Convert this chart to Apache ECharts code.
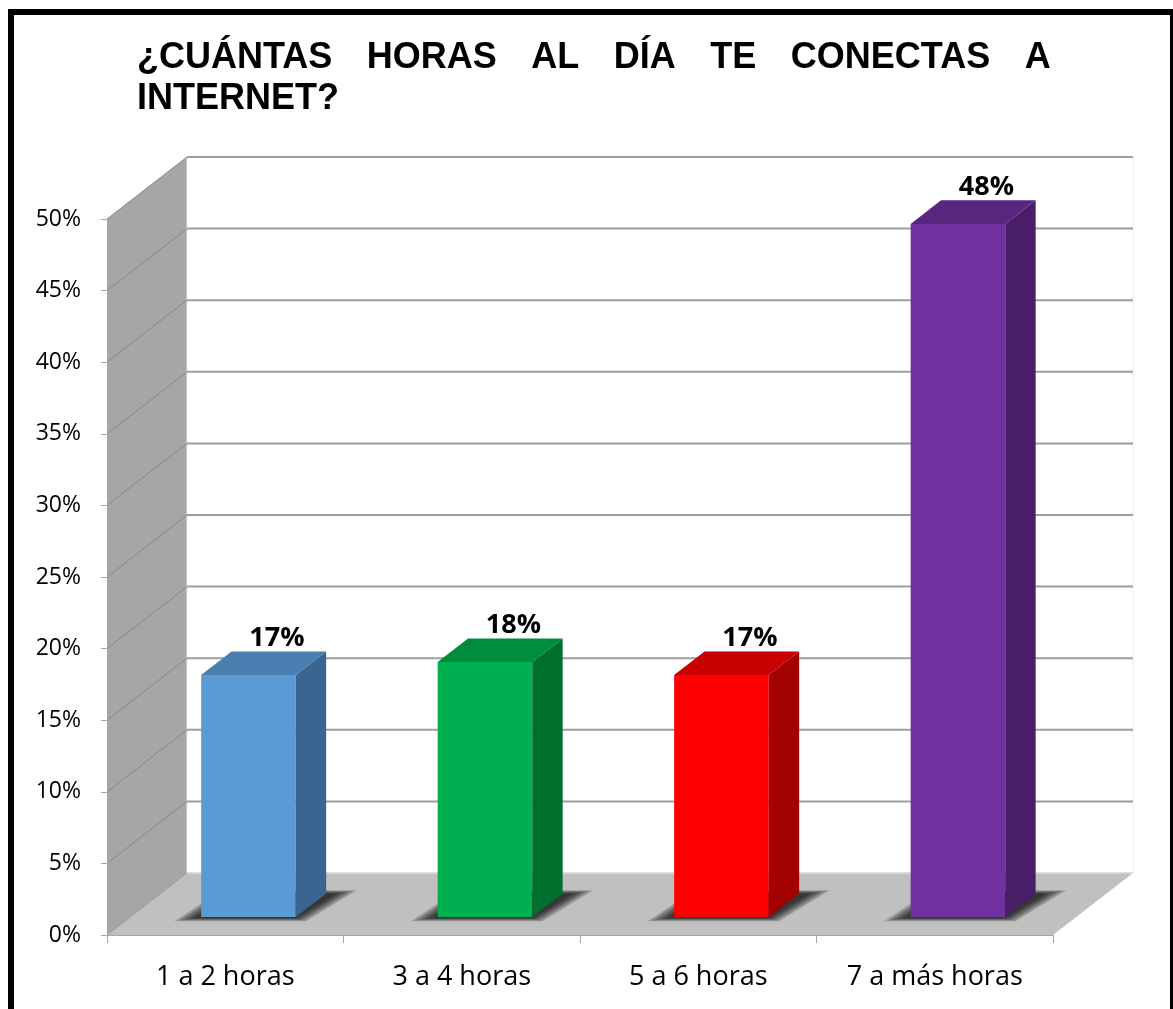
<!DOCTYPE html>
<html><head><meta charset="utf-8">
<script src="https://cdn.jsdelivr.net/npm/echarts@6/dist/echarts.min.js"></script>
<style>html,body{margin:0;padding:0;background:#fff}#c{width:1173px;height:1009px}</style>
</head><body><div id="c"></div>
<script>
const categories = ['1 a 2 horas', '3 a 4 horas', '5 a 6 horas', '7 a más horas'];
const values = [16.9, 17.8, 16.9, 48.4];
const barLabels = ['17%', '18%', '17%', '48%'];
const yTickValues = [0, 5, 10, 15, 20, 25, 30, 35, 40, 45, 50];
const frontColors = ['#5b9bd5', '#00b050', '#ff0000', '#7030a0'];
const topColors = ['#4a7db0', '#008c3f', '#c80000', '#59267f'];
const sideColors = ['#3b6590', '#00702f', '#a30000', '#481f66'];
const titleWords = ['¿CUÁNTAS', 'HORAS', 'AL', 'DÍA', 'TE', 'CONECTAS', 'A'];
const titleLine2 = 'INTERNET?';

const DX = 80, DY = -62;            // depth vector of the 3D box
const BAR_F0 = 0.29, BAR_F1 = 0.67; // bar depth span (fractions of box depth)
const BAR_W = 0.40;                 // bar width as fraction of category band

function renderBox(params, api) {
  const n = categories.length;
  const band = api.size([1, 0])[0];
  const a = api.coord([0, 0]), b = api.coord([n - 1, 0]);
  const xL = a[0] - band / 2, xR = b[0] + band / 2, y0 = a[1];
  const yT = api.coord([0, yTickValues[yTickValues.length - 1]])[1];
  const ch = [];
  ch.push({type: 'polygon', shape: {points: [[xL, y0], [xR, y0], [xR + DX, y0 + DY], [xL + DX, y0 + DY]]}, style: {fill: '#c0c0c0'}});
  ch.push({type: 'polygon', shape: {points: [[xL, y0], [xL, yT], [xL + DX, yT + DY], [xL + DX, y0 + DY]]}, style: {fill: '#a6a6a6'}});
  ch.push({type: 'rect', shape: {x: xL + DX, y: yT + DY, width: xR - xL, height: y0 - yT}, style: {fill: '#fff', stroke: '#ececec', lineWidth: 1}});
  ch.push({type: 'line', shape: {x1: xL + DX, y1: y0 + DY, x2: xR + DX, y2: y0 + DY}, style: {stroke: '#d4d4d4', lineWidth: 1.5}});
  ch.push({type: 'line', shape: {x1: xL, y1: y0, x2: xL + DX, y2: y0 + DY}, style: {stroke: '#9a9a9a', lineWidth: 1}});
  yTickValues.forEach(function (v) {
    if (v === 0) return;
    const y = api.coord([0, v])[1];
    ch.push({type: 'line', shape: {x1: xL + DX, y1: y + DY, x2: xR + DX, y2: y + DY}, style: {stroke: '#9e9e9e', lineWidth: 2}});
    ch.push({type: 'line', shape: {x1: xL, y1: y, x2: xL + DX, y2: y + DY}, style: {stroke: '#888888', lineWidth: 1}});
  });
  return {type: 'group', children: ch};
}

function renderBar(params, api) {
  const i = api.value(0), v = api.value(1);
  const base = api.coord([i, 0]), top = api.coord([i, v]);
  const band = api.size([1, 0])[0];
  const w = band * BAR_W;
  const ox0 = DX * BAR_F0, oy0 = DY * BAR_F0;
  const dx = DX * (BAR_F1 - BAR_F0), dy = DY * (BAR_F1 - BAR_F0);
  const xl = base[0] - w / 2 + ox0, xr = base[0] + w / 2 + ox0;
  const yb = base[1] + oy0, yt = top[1] + oy0;
  const ch = [];
  // soft floor shadow built from stacked translucent layers
  for (let k = 6; k >= 0; k--) {
    const e = k * 3.5;
    ch.push({type: 'polygon', shape: {points: [
      [xl - 6 - e, yb + 1 + e * 0.15], [xr + e * 0.5, yb + 1 + e * 0.15],
      [xr + dx + 10 + e, yb + dy - e * 0.15], [xl + dx - e * 0.5, yb + dy - e * 0.15]]},
      style: {fill: 'rgba(0,0,0,0.16)'}});
  }
  ch.push({type: 'rect', shape: {x: xl, y: yt, width: w, height: yb - yt}, style: {fill: frontColors[i]}});
  ch.push({type: 'polygon', shape: {points: [[xr, yb], [xr, yt], [xr + dx, yt + dy], [xr + dx, yb + dy]]}, style: {fill: sideColors[i]}});
  ch.push({type: 'polygon', shape: {points: [[xl, yt], [xr, yt], [xr + dx, yt + dy], [xl + dx, yt + dy]]}, style: {fill: topColors[i]}});
  ch.push({type: 'text', style: {text: barLabels[i], x: (xl + xr) / 2 + dx - 2, y: yt + dy, align: 'center', verticalAlign: 'bottom',
    font: 'bold 27px "Open Sans"', fill: '#000'}});
  return {type: 'group', children: ch};
}

const chart = echarts.init(document.getElementById('c'), null, {renderer: 'canvas'});
chart.setOption({
  animation: false,
  backgroundColor: '#fff',
  title: {
    left: 137, top: 38, padding: 0,
    text: titleWords.join('{g| }') + '\n' + titleLine2,
    textStyle: {fontFamily: 'Liberation Sans', fontWeight: 'bold', fontSize: 36, lineHeight: 41, color: '#000',
      rich: {g: {width: 34.5, fontSize: 36, lineHeight: 41, fontFamily: 'Liberation Sans', fontWeight: 'bold'}}}
  },
  grid: {left: 107, right: 120, top: 219, bottom: 74},
  xAxis: {
    type: 'category', data: categories, z: 5,
    axisLine: {lineStyle: {color: '#a6a6a6', width: 1}},
    axisTick: {show: true, length: 8, lineStyle: {color: '#a6a6a6'}},
    axisLabel: {fontFamily: 'Open Sans', fontSize: 27, color: '#000', margin: 29}
  },
  yAxis: {
    type: 'value', min: 0, max: 50, interval: 5, z: 5,
    axisLine: {show: true, lineStyle: {color: '#a6a6a6', width: 1}},
    axisTick: {show: true, length: 6, lineStyle: {color: '#a6a6a6'}},
    axisLabel: {formatter: '{value}%', fontFamily: 'Open Sans', fontSize: 23, color: '#000', margin: 26},
    splitLine: {show: false}
  },
  series: [
    {type: 'custom', renderItem: renderBox, data: [[0, 0]], z: 1, clip: false, silent: true},
    {type: 'custom', renderItem: renderBar, data: values.map(function (v, i) { return [i, v]; }), z: 3, clip: false, silent: true}
  ],
  graphic: [
    {type: 'rect', shape: {x: 8, y: 9, width: 1165, height: 6}, style: {fill: '#000'}, z: 100},
    {type: 'rect', shape: {x: 8, y: 9, width: 6, height: 1000}, style: {fill: '#000'}, z: 100},
    {type: 'rect', shape: {x: 1170, y: 9, width: 3, height: 1000}, style: {fill: '#000'}, z: 100}
  ]
});
</script></body></html>
